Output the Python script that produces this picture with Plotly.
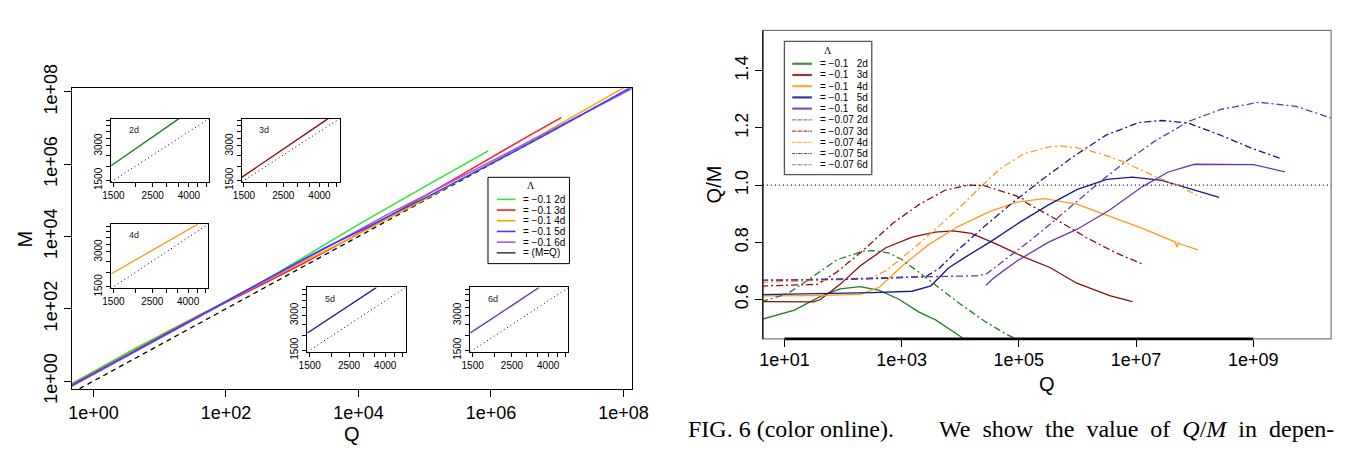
import plotly.graph_objects as go

W, H = 1354, 464
SANS = "Liberation Sans, Arial, Helvetica, sans-serif"
SERIF = "Liberation Serif, Times New Roman, serif"

# ---------------- data: right panel (Q, Q/M) ----------------
g1_Q = [4.0, 14.8, 41.2, 89.1, 195, 417, 912, 1950, 3800, 6310, 10700, 15800]
g1_R = [0.53, 0.563, 0.611, 0.637, 0.645, 0.632, 0.600, 0.557, 0.529, 0.500, 0.467, 0.440]
g2_Q = [4.0, 11.4, 28.2, 78.5, 219, 324, 617, 1020, 1950, 4270, 9330, 25700, 63100, 93300, 126000]
g2_R = [0.592, 0.621, 0.675, 0.739, 0.769, 0.771, 0.762, 0.739, 0.696, 0.643, 0.589, 0.525, 0.477, 0.461, 0.445]
r1_Q = [4.0, 10, 31.6, 41.2, 89.1, 195, 537, 1510, 3720, 7590, 15500, 43700, 120000, 339000, 977000, 3.55e6, 8.71e6]
r1_R = [0.593, 0.592, 0.592, 0.600, 0.653, 0.717, 0.781, 0.818, 0.836, 0.840, 0.831, 0.792, 0.749, 0.712, 0.657, 0.614, 0.593]
r2_Q = [4.0, 36.3, 78.5, 219, 708, 1950, 5500, 13500, 25700, 83200, 123000, 130000, 389000, 1.41e6, 4.57e6, 1.29e7]
r2_R = [0.647, 0.653, 0.696, 0.771, 0.867, 0.931, 0.982, 1.0, 0.998, 0.965, 0.95, 0.94, 0.886, 0.817, 0.763, 0.724]
o1_Q = [4.0, 31.6, 195, 417, 1020, 2880, 9330, 33000, 93300, 269000, 977000, 3.55e6, 1.29e7, 4.68e7, 5.0e7, 5.25e7, 5.5e7, 1.15e8]
o1_R = [0.613, 0.614, 0.618, 0.643, 0.717, 0.792, 0.856, 0.909, 0.941, 0.953, 0.934, 0.891, 0.849, 0.801, 0.783, 0.800, 0.795, 0.774]
o2_Q = [4.0, 282, 537, 1510, 4270, 10700, 24000, 50100, 123000, 316000, 501000, 1e6, 2.51e6, 5.89e6, 2.14e7, 5.25e7, 1.29e8]
o2_R = [0.660, 0.673, 0.70, 0.775, 0.855, 0.93, 1.0, 1.06, 1.11, 1.133, 1.137, 1.13, 1.11, 1.083, 1.03, 0.998, 0.957]
b1_Q = [4.0, 31.6, 316, 1510, 3160, 6310, 12600, 31600, 1e5, 316000, 1e6, 3.16e6, 8.71e6, 2.75e7, 8.91e7, 2.63e8]
b1_R = [0.617, 0.62, 0.624, 0.629, 0.648, 0.71, 0.75, 0.80, 0.868, 0.93, 0.985, 1.02, 1.028, 1.017, 0.987, 0.957]
b2_Q = [4.0, 316, 2570, 4270, 9330, 25700, 74100, 234000, 851000, 3.09e6, 1.12e7, 2.75e7, 7.76e7, 2.82e8, 1.02e9, 2.88e9]
b2_R = [0.667, 0.673, 0.680, 0.707, 0.775, 0.855, 0.935, 1.015, 1.10, 1.175, 1.219, 1.226, 1.217, 1.174, 1.126, 1.094]
p1_Q = [27500, 35500, 50100, 93300, 316000, 977000, 3.55e6, 1.29e7, 3.55e7, 1e8, 1.02e9, 3.47e9]
p1_R = [0.65, 0.672, 0.695, 0.735, 0.80, 0.845, 0.913, 0.995, 1.046, 1.073, 1.072, 1.046]
p2_Q = [4.0, 100, 1510, 20000, 28200, 43700, 72400, 178000, 398000, 977000, 2.69e6, 6.76e6, 2.14e7, 7.76e7, 2.82e8, 1.26e9, 5.5e9, 2.51e10]
p2_R = [0.667, 0.672, 0.679, 0.683, 0.69, 0.72, 0.755, 0.815, 0.875, 0.944, 1.019, 1.083, 1.155, 1.222, 1.265, 1.29, 1.275, 1.23]

# ---------------- data: left panel (Q, M) ----------------
L2_Q = [0.47, 4.0, 14.8, 89.1, 417, 1950, 10700, 1e5, 9.1e5]
L2_M = [0.85, 7.5, 26.3, 140, 660, 3500, 22900, 240000, 2330000]
L3_Q = [0.47, 4.0, 41.2, 195, 1510, 7590, 43700, 339000, 3.55e6, 1.15e7]
L3_M = [0.80, 6.8, 69, 272, 1850, 9040, 55200, 476000, 5.78e6, 1.95e7]
L4_Q = [0.47, 4.0, 195, 1020, 9330, 93300, 977000, 1.29e7, 1.15e8]
L4_M = [0.77, 6.5, 316, 1420, 10900, 99100, 1.05e6, 1.52e7, 1.49e8]
L5_Q = [0.47, 4.0, 1510, 3160, 12600, 1e5, 1e6, 8.71e6, 1e8, 2.63e8]
L5_M = [0.76, 6.5, 2400, 4880, 16900, 115000, 1.02e6, 8.47e6, 1.01e8, 2.75e8]
L6_Q = [0.47, 4.0, 1460, 27500, 93300, 977000, 1.29e7, 1e8, 1e9]
L6_M = [0.72, 6.1, 2110, 41000, 127000, 1.16e6, 1.30e7, 9.3e7, 9.3e8]
ref_Q = [0.47, 1.5e8]
ref_M = [0.47, 1.5e8]

# insets (Q, M)
in2_Q, in2_M = [1455, 3516], [2013, 5210]
in3_Q, in3_M = [1455, 4477], [1593, 5210]
in4_Q, in4_M = [1455, 4542], [1937, 5210]
in5_Q, in5_M = [1455, 3570], [2113, 5210]
in6_Q, in6_M = [1455, 3555], [2113, 5210]
diag_Q = [1455, 5210]
diag_M = [1455, 5210]

# tick labels
left_ticks = [1, 1e2, 1e4, 1e6, 1e8]
left_ticktext = ["1e+00", "1e+02", "1e+04", "1e+06", "1e+08"]
right_xticks = [10, 1e3, 1e5, 1e7, 1e9]
right_xticktext = ["1e+01", "1e+03", "1e+05", "1e+07", "1e+09"]
right_yticks = [0.6, 0.8, 1.0, 1.2, 1.4]
right_yticktext = ["0.6", "0.8", "1.0", "1.2", "1.4"]
inset_ticks = [1500, 2000, 2500, 3000, 3500, 4000, 4500, 5000]
inset_xtext = ["1500", "", "2500", "", "", "4000", "", ""]
inset_ytext = ["1500", "", "", "3000", "", "", "", ""]

left_legend = ["= \u22120.1 2d", "= \u22120.1 3d", "= \u22120.1 4d", "= \u22120.1 5d", "= \u22120.1 6d", "= (M=Q)"]
right_legend = ["= \u22120.1\u00a0\u00a0\u00a02d", "= \u22120.1\u00a0\u00a0\u00a03d", "= \u22120.1\u00a0\u00a0\u00a04d",
                "= \u22120.1\u00a0\u00a0\u00a05d", "= \u22120.1\u00a0\u00a0\u00a06d",
                "= \u22120.07 2d", "= \u22120.07 3d", "= \u22120.07 4d", "= \u22120.07 5d", "= \u22120.07 6d"]

caption_left = "FIG. 6 (color online)."
caption_right = "We\u00a0\u00a0show\u00a0\u00a0the\u00a0\u00a0value\u00a0\u00a0of\u00a0\u00a0<i>Q</i>/<i>M</i>\u00a0\u00a0in\u00a0\u00a0depen-"

# ---------------- styles ----------------
DARKGREEN = "#1f7f1f"
DARKRED = "#8b0f0f"
ORANGE = "#ff9a1a"
DARKBLUE = "#16169a"
PURPLE = "#6a36ae"
L_GREEN = "#2ee82e"
L_RED = "#ff1c1c"
L_ORANGE = "#ffa500"
L_BLUE = "#3b3bff"
L_PURPLE = "#a05ae8"
DASHDOT = "7px,3px,2px,3px"
DOT = "1px,3px"
DASH = "5px,4px"


def fx(px):
    return px / W


def fy(py):
    return 1 - py / H


fig = go.Figure()


def add(x, y, color, width, dash, xa, ya):
    fig.add_trace(go.Scatter(x=x, y=y, mode="lines",
                             line=dict(color=color, width=width, dash=dash),
                             xaxis=xa, yaxis=ya, showlegend=False, hoverinfo="skip"))


# left main
add(ref_Q, ref_M, "black", 1.3, DASH, "x", "y")
add(L2_Q, L2_M, L_GREEN, 1.5, "solid", "x", "y")
add(L3_Q, L3_M, L_RED, 1.5, "solid", "x", "y")
add(L4_Q, L4_M, L_ORANGE, 1.5, "solid", "x", "y")
add(L6_Q, L6_M, L_PURPLE, 1.5, "solid", "x", "y")
add(L5_Q, L5_M, L_BLUE, 1.5, "solid", "x", "y")

# right main
right_series = [
    (g1_Q, g1_R, DARKGREEN, "solid"), (r1_Q, r1_R, DARKRED, "solid"), (o1_Q, o1_R, ORANGE, "solid"),
    (b1_Q, b1_R, DARKBLUE, "solid"), (p1_Q, p1_R, PURPLE, "solid"),
    (g2_Q, g2_R, DARKGREEN, DASHDOT), (r2_Q, r2_R, DARKRED, DASHDOT), (o2_Q, o2_R, ORANGE, DASHDOT),
    (b2_Q, b2_R, DARKBLUE, DASHDOT), (p2_Q, p2_R, PURPLE, DASHDOT),
]
for q, r, c, d in right_series:
    add(q, r, c, 1.3, d, "x2", "y2")

# insets
insets = [
    ("3", in2_Q, in2_M, DARKGREEN, "2d", (104, 204, 103, 172)),
    ("4", in3_Q, in3_M, DARKRED, "3d", (237, 337, 103, 172)),
    ("5", in4_Q, in4_M, ORANGE, "4d", (104, 203, 218, 288)),
    ("6", in5_Q, in5_M, DARKBLUE, "5d", (304, 404, 287, 357)),
    ("7", in6_Q, in6_M, PURPLE, "6d", (470, 570, 287, 357)),
]
for k, q, m, c, lab, box in insets:
    add(diag_Q, diag_M, "black", 1, DOT, "x" + k, "y" + k)
    add(q, m, c, 1.4, "solid", "x" + k, "y" + k)

common = dict(showgrid=False, zeroline=False, ticks="outside", tickcolor="black",
              linecolor="black", tickfont=dict(family=SANS, size=18, color="black"))

layout_axes = {}
layout_axes["xaxis"] = dict(common, domain=[fx(64), fx(635)], type="log", range=[-0.326, 8.133],
                            tickmode="array", tickvals=left_ticks, ticktext=left_ticktext,
                            ticklen=7, showline=True, mirror=True, linewidth=1, anchor="y")
layout_axes["yaxis"] = dict(common, domain=[fy(398), fy(70)], type="log", range=[-0.23, 8.10],
                            tickmode="array", tickvals=left_ticks, ticktext=left_ticktext,
                            ticklen=7, tickangle=-90, showline=True, mirror=True, linewidth=1, anchor="x")
layout_axes["xaxis2"] = dict(common, domain=[fx(768), fx(1347)], type="log", range=[0.631, 10.33],
                             tickmode="array", tickvals=right_xticks, ticktext=right_xticktext,
                             ticklen=7, showline=False, anchor="y2", ticklabelstandoff=-3)
layout_axes["yaxis2"] = dict(common, domain=[fy(343), fy(7)], range=[0.4623, 1.541],
                             tickmode="array", tickvals=right_yticks, ticktext=right_yticktext,
                             ticklen=7, tickangle=-90, showline=False, anchor="x2")
for k, q, m, c, lab, (x0, x1, y0, y1) in insets:
    ic = dict(showgrid=False, zeroline=False, ticks="outside", tickcolor="black", ticklen=4,
              linecolor="black", showline=True, mirror=True, linewidth=1, type="log",
              range=[3.1629, 3.7168], tickmode="array", tickvals=inset_ticks,
              tickfont=dict(family=SANS, size=10, color="black"))
    layout_axes["xaxis" + k] = dict(ic, domain=[fx(x0), fx(x1)], ticktext=inset_xtext, anchor="y" + k)
    layout_axes["yaxis" + k] = dict(ic, domain=[fy(y1), fy(y0)], ticktext=inset_ytext, tickangle=-90,
                                    anchor="x" + k)

shapes = []
annotations = []

# right panel frame: grey box, black left side and heavy bottom axis line
shapes.append(dict(type="rect", xref="x2 domain", yref="y2 domain", x0=0, x1=1, y0=0, y1=1,
                   line=dict(color="#7a7a7a", width=1.2)))
shapes.append(dict(type="line", xref="x2 domain", yref="y2 domain", x0=0, x1=0, y0=0, y1=1,
                   line=dict(color="black", width=1.2)))
shapes.append(dict(type="line", xref="x2", yref="y2 domain", x0=right_xticks[0], x1=right_xticks[-1],
                   y0=0, y1=0, line=dict(color="black", width=2.6)))
# reference line Q/M = 1
shapes.append(dict(type="line", xref="x2 domain", yref="y2", x0=0, x1=1, y0=1.0, y1=1.0,
                   line=dict(color="black", width=1.3, dash=DOT)))

# inset labels
for k, q, m, c, lab, (x0, x1, y0, y1) in insets:
    annotations.append(dict(text=lab, xref="paper", yref="paper", x=fx(x0 + 23), y=fy(y0 + 12),
                            showarrow=False, xanchor="center", yanchor="middle",
                            font=dict(family=SANS, size=9, color="#222")))

# left legend
shapes.append(dict(type="rect", xref="paper", yref="paper", x0=fx(488), x1=fx(571), y0=fy(261), y1=fy(167),
                   line=dict(color="black", width=1), fillcolor="white"))
annotations.append(dict(text="\u039b", xref="paper", yref="paper", x=fx(532), y=fy(176), showarrow=False,
                        xanchor="center", yanchor="middle", font=dict(family=SERIF, size=10, color="black")))
left_cols = [L_GREEN, L_RED, L_ORANGE, L_BLUE, L_PURPLE, "#444444"]
for i, (lab, col) in enumerate(zip(left_legend, left_cols)):
    yy = 191 + i * 11.65
    shapes.append(dict(type="line", xref="paper", yref="paper", x0=fx(497), x1=fx(516), y0=fy(yy), y1=fy(yy),
                       line=dict(color=col, width=1.6)))
    annotations.append(dict(text=lab, xref="paper", yref="paper", x=fx(522), y=fy(yy), showarrow=False,
                            xanchor="left", yanchor="middle", font=dict(family=SANS, size=10, color="black")))

# right legend
shapes.append(dict(type="rect", xref="paper", yref="paper", x0=fx(790), x1=fx(879), y0=fy(164), y1=fy(19),
                   line=dict(color="#555555", width=1.3), fillcolor="white"))
annotations.append(dict(text="\u039b", xref="paper", yref="paper", x=fx(834), y=fy(29), showarrow=False,
                        xanchor="center", yanchor="middle", font=dict(family=SERIF, size=10, color="black")))
right_cols = [DARKGREEN, DARKRED, ORANGE, DARKBLUE, PURPLE] * 2
right_dash = ["solid"] * 5 + ["3px,1px,1px,1px"] * 5
right_w = [2.2] * 5 + [1.2] * 5
for i, lab in enumerate(right_legend):
    yy = 43.3 + i * 12.22
    shapes.append(dict(type="line", xref="paper", yref="paper", x0=fx(798), x1=fx(818), y0=fy(yy), y1=fy(yy),
                       line=dict(color=right_cols[i], width=right_w[i], dash=right_dash[i]), opacity=0.85))
    annotations.append(dict(text=lab, xref="paper", yref="paper", x=fx(824), y=fy(yy), showarrow=False,
                            xanchor="left", yanchor="middle", font=dict(family=SANS, size=10, color="black")))

# axis titles
annotations.append(dict(text="Q", xref="paper", yref="paper", x=fx(349.5), y=fy(447), showarrow=False,
                        xanchor="center", yanchor="middle", font=dict(family=SANS, size=20, color="black")))
annotations.append(dict(text="M", xref="paper", yref="paper", x=fx(16), y=fy(234), showarrow=False,
                        textangle=-90, xanchor="center", yanchor="middle",
                        font=dict(family=SANS, size=20, color="black")))
annotations.append(dict(text="Q", xref="paper", yref="paper", x=fx(1057.5), y=fy(392), showarrow=False,
                        xanchor="center", yanchor="middle", font=dict(family=SANS, size=20, color="black")))
annotations.append(dict(text="Q/M", xref="paper", yref="paper", x=fx(718), y=fy(175), showarrow=False,
                        textangle=-90, xanchor="center", yanchor="middle",
                        font=dict(family=SANS, size=20, color="black")))

# caption
annotations.append(dict(text=caption_left, xref="paper", yref="paper", x=fx(690), y=fy(441),
                        showarrow=False, xanchor="left", yanchor="middle",
                        font=dict(family=SERIF, size=24, color="black")))
annotations.append(dict(text=caption_right, xref="paper", yref="paper",
                        x=fx(1352), y=fy(441), showarrow=False, xanchor="right", yanchor="middle",
                        font=dict(family=SERIF, size=24, color="black")))

fig.update_layout(
    width=W, height=H, autosize=False,
    margin=dict(l=0, r=0, t=0, b=0),
    paper_bgcolor="white", plot_bgcolor="white",
    showlegend=False,
    shapes=shapes, annotations=annotations,
    **layout_axes,
)

fig.write_html("out.html")
